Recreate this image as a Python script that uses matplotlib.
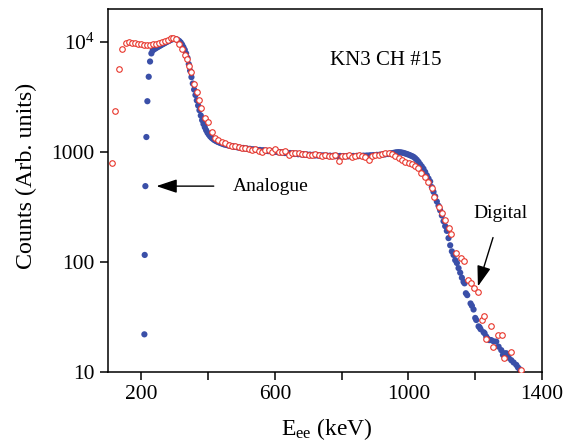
import matplotlib
matplotlib.use("Agg")
import matplotlib.pyplot as plt
from matplotlib.ticker import FixedLocator, NullLocator

plt.rcParams['font.family'] = ['Liberation Serif', 'DejaVu Serif']
plt.rcParams['mathtext.fontset'] = 'custom'
plt.rcParams['mathtext.rm'] = 'Liberation Serif'
plt.rcParams['mathtext.it'] = 'Liberation Serif:italic'

# Analogue (blue filled dots)
analogue_x = [209, 210, 212, 215, 218, 222, 226, 230, 234, 238, 242, 246, 250, 254, 258, 262, 266, 270, 274, 278,
              282, 286, 290, 294, 298, 302, 306, 310, 314, 318, 322, 326, 330, 334, 338, 342, 346, 350, 354, 358,
              362, 366, 370, 374, 378, 382, 386, 390, 394, 398, 402, 406, 410, 414, 418, 422, 426, 430, 434, 438,
              442, 446, 450, 455, 460, 465, 470, 475, 480, 485, 490, 495, 500, 505, 510, 515, 520, 525, 530, 535,
              540, 545, 550, 555, 560, 565, 570, 575, 580, 585, 590, 595, 600, 605, 610, 615, 620, 625, 630, 635,
              640, 645, 650, 655, 660, 665, 670, 675, 680, 685, 690, 695, 700, 705, 710, 715, 720, 725, 730, 735,
              740, 745, 750, 755, 760, 765, 770, 775, 780, 785, 790, 795, 800, 805, 810, 815, 820, 825, 830, 835,
              840, 845, 850, 855, 860, 865, 870, 875, 880, 885, 890, 895, 900, 905, 910, 915, 920, 925, 930, 935,
              940, 945, 950, 955, 960, 965, 970, 975, 980, 985, 990, 995, 1000, 1005, 1010, 1015, 1020, 1025, 1030,
              1035, 1040, 1045, 1050, 1055, 1060, 1065, 1070, 1075, 1080, 1085, 1090, 1095, 1100, 1105, 1110, 1115,
              1120, 1125, 1130, 1135, 1140, 1145, 1150, 1155, 1160, 1165, 1168, 1172, 1176, 1186, 1190, 1195, 1200,
              1203, 1210, 1213, 1216, 1225, 1228, 1233, 1238, 1242, 1248, 1255, 1263, 1270, 1278, 1283, 1288, 1293,
              1300, 1308, 1315, 1323, 1328, 1333]
analogue_y = [22, 116, 490, 1370, 2900, 4840, 6660, 7890, 8400, 8600, 8750, 8900, 9050, 9200, 9350, 9500, 9650, 9800, 9950, 10100,
              10250, 10400, 10550, 10650, 10700, 10650, 10550, 10400, 10200, 9900, 9500, 9000, 8500, 7900, 7200, 6300, 5500, 4800, 4200, 3700,
              3300, 2950, 2650, 2400, 2150, 1950, 1800, 1680, 1580, 1500, 1440, 1390, 1350, 1320, 1290, 1270, 1250, 1235, 1220, 1205,
              1195, 1180, 1170, 1160, 1150, 1140, 1135, 1125, 1115, 1110, 1100, 1095, 1085, 1090, 1075, 1080, 1065, 1070, 1055, 1060,
              1045, 1050, 1040, 1045, 1030, 1040, 1025, 1030, 1020, 1025, 1010, 1015, 1005, 1010, 995, 1000, 990, 995, 980, 985,
              975, 980, 970, 975, 960, 970, 955, 965, 950, 958, 945, 952, 940, 948, 935, 945, 930, 940, 928, 936,
              925, 933, 922, 930, 920, 928, 918, 926, 916, 924, 915, 922, 914, 920, 913, 920, 914, 921, 915, 922,
              916, 924, 918, 926, 920, 928, 923, 930, 926, 934, 930, 938, 935, 943, 940, 948, 946, 955, 952, 962,
              960, 968, 975, 982, 990, 995, 998, 995, 990, 982, 972, 960, 948, 935, 920, 905, 880, 850, 815,
              775, 740, 705, 660, 615, 575, 540, 480, 435, 395, 355, 325, 295, 265, 235, 212, 192,
              165, 142, 125, 116, 104, 98, 88, 80, 72, 66, 64, 52, 50, 42, 40, 37, 31,
              29.7, 26, 25.5, 24.5, 23, 22.5, 21, 20, 19.5, 19.5, 19, 18.9, 17, 15.8, 14.3, 14.8, 14.8,
              13.5, 12.8, 12.2, 11.6, 11.0, 10.6]

# Digital (red open circles)
digital_x = [112, 122, 133, 143, 153, 163, 172, 181, 190, 199, 208, 217, 226, 235, 244, 253, 262, 271, 280, 289,
             296, 304, 313, 322, 330, 337, 344, 350, 358, 366, 372, 380, 391, 401, 411, 421, 431, 441, 451, 461,
             471, 481, 491, 501, 511, 521, 531, 541, 551, 561, 571, 581, 591, 601, 611, 621, 631, 641, 651, 661,
             671, 681, 691, 701, 711, 721, 731, 741, 751, 761, 771, 781, 791, 801, 811, 821, 831, 841, 851, 861,
             871, 881, 891, 901, 911, 921, 931, 941, 951, 961, 971, 981, 991, 1001, 1011, 1021, 1028, 1038, 1049, 1060,
             1071, 1078, 1091, 1101, 1108, 1121, 1128, 1141, 1157, 1167, 1177, 1187, 1197, 1207, 1220, 1227, 1233, 1247,
             1253, 1267, 1280, 1286, 1306, 1336]
digital_y = [794, 2360, 5720, 8590, 9730, 10000, 9900, 9750, 9650, 9550, 9450, 9400, 9450, 9550, 9700, 9850, 10000, 10200, 10450, 10800,
             11000, 10600, 9600, 8600, 7600, 7000, 6100, 5300, 4150, 3500, 3000, 2500, 2050, 1880, 1530, 1350, 1300, 1240, 1200, 1170,
             1145, 1125, 1120, 1100, 1085, 1075, 1045, 1060, 1020, 1010, 1045, 1050, 1010, 1065, 1000, 1010, 1020, 935, 990, 975,
             985, 960, 965, 950, 945, 960, 935, 925, 945, 930, 925, 945, 830, 925, 920, 935, 905, 920, 935, 915,
             905, 840, 920, 935, 950, 955, 975, 985, 960, 930, 880, 850, 815, 790, 773, 740, 711, 640, 597, 530,
             468, 393, 314, 277, 241, 202, 179, 120, 108, 103, 68.5, 65, 58, 53, 30, 32, 20, 26,
             17, 21.8, 21.8, 13.3, 15.1, 10.4]

x_ticks = [200, 400, 600, 800, 1000, 1200, 1400]
x_ticklabels = ['200', '', '600', '', '1000', '', '1400']
y_ticks = [10, 100, 1000, 10000]
y_ticklabels = ['10', '100', '1000', r'$\mathregular{10^4}$']

fig = plt.figure(figsize=(5.79, 4.43), dpi=100)
ax = fig.add_axes([0.1865, 0.1603, 0.7496, 0.8194])

ax.scatter(analogue_x, analogue_y, s=20, color='#3a4fa8', edgecolors='none', zorder=2)
ax.scatter(digital_x, digital_y, s=16, facecolors='white', edgecolors='#e8352b', linewidths=0.8, zorder=3)

ax.set_yscale('log')
ax.set_xlim(100, 1400)
ax.set_ylim(10, 20000)
ax.xaxis.set_major_locator(FixedLocator(x_ticks))
ax.set_xticklabels(x_ticklabels)
ax.yaxis.set_major_locator(FixedLocator(y_ticks))
ax.yaxis.set_minor_locator(NullLocator())
ax.set_yticklabels(y_ticklabels)
ax.tick_params(axis='both', which='major', direction='out', length=6, width=1.1, labelsize=15.5, pad=3.5)

for s in ax.spines.values():
    s.set_linewidth(1.1)

ax.set_ylabel('Counts (Arb. units)', fontsize=17.3)
ax.yaxis.set_label_coords(-0.1636, 0.539)
ax.set_xlabel(r'E$_{\mathregular{ee}}$ (keV)', fontsize=17)
ax.xaxis.set_label_coords(0.505, -0.121)

ax.text(0.511, 0.857, 'KN3 CH #15', transform=ax.transAxes, fontsize=15, va='center', ha='left')

ax.annotate('Analogue', xy=(245, 490), xytext=(475, 490), fontsize=14, va='center', ha='left',
            arrowprops=dict(arrowstyle='-|>,head_length=0.9,head_width=0.3', color='black', lw=1.0,
                            shrinkA=12, shrinkB=0))
ax.annotate('Digital', xy=(1208, 60), xytext=(1276, 279), fontsize=14, va='center', ha='center',
            arrowprops=dict(arrowstyle='-|>,head_length=0.9,head_width=0.3', color='black', lw=1.0,
                            shrinkA=10, shrinkB=0))

fig.savefig('out.png', dpi=100)
